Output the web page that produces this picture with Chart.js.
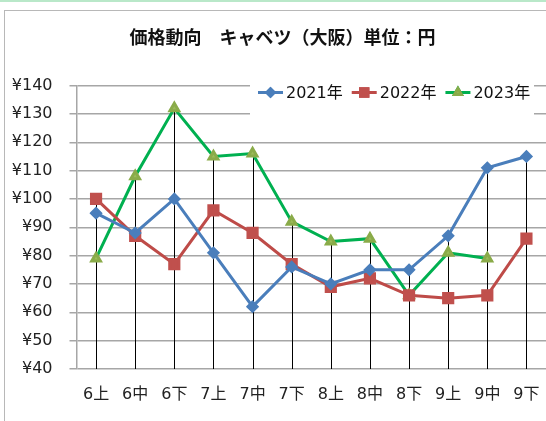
<!DOCTYPE html>
<html>
<head>
<meta charset="utf-8">
<script src="https://cdn.jsdelivr.net/npm/chart.js@4"></script>
<style>
    body { margin: 0; background: #fff; overflow: hidden; }
    #topline { position: absolute; left: 0; top: 0; width: 546px; height: 2px; background: #b9e8c9; }
    #frame { position: absolute; left: 4px; top: 10px; width: 700px; height: 600px; border: 1.5px solid #b8b8b8; }
    #wrap { position: absolute; left: 0; top: 0; width: 546px; height: 421px; }
</style>
</head>
<body>
<div id="topline"></div>
<div id="frame"></div>
<div id="wrap"><canvas id="priceChart" width="546" height="421"></canvas></div>
<script>
// periods (上=early, 中=mid, 下=late)
const periods = ['6上', '6中', '6下', '7上', '7中', '7下', '8上', '8中', '8下', '9上', '9中', '9下'];
const seriesNames = ['2021年', '2022年', '2023年'];
const prices2021 = [95, 88, 100, 81, 62, 76, 70, 75, 75, 87, 111, 115];
const prices2022 = [100, 87, 77, 96, 88, 77, 69, 72, 66, 65, 66, 86];
const prices2023 = [79, 108, 132, 115, 116, 92, 85, 86, 66, 81, 79, null];
const yTicks = [40, 50, 60, 70, 80, 90, 100, 110, 120, 130, 140];

const fontName = '"DejaVu Sans", "Noto Sans CJK JP", sans-serif';
const titleFont = '"Noto Sans CJK JP", sans-serif';

// excel style drop lines: from the highest point of each period down to the axis
const dropLines = {
    id: 'dropLines',
    afterLayout(chart) {
        // title is centred on the frame, not the canvas
        chart.titleBlock.left += 19;
    },
    beforeDatasetsDraw(chart) {
        const ctx = chart.ctx;
        const x = chart.scales.x, y = chart.scales.y;
        ctx.save();
        ctx.strokeStyle = '#000';
        ctx.lineWidth = 1;
        periods.forEach(function(p, i) {
            const vals = chart.data.datasets.map(d => d.data[i]).filter(v => v != null);
            const top = Math.max.apply(null, vals);
            const px = Math.round(x.getPixelForValue(i)) + 0.5;
            ctx.beginPath();
            ctx.moveTo(px, y.getPixelForValue(top));
            ctx.lineTo(px, chart.chartArea.bottom);
            ctx.stroke();
        });
        ctx.restore();
    }
};

// legend sits on top of the plot in a white box
const boxLegend = {
    id: 'boxLegend',
    afterDraw(chart) {
        const ctx = chart.ctx;
        ctx.save();
        ctx.fillStyle = '#fff';
        ctx.fillRect(250, 79, 284, 40);
        ctx.font = '16px ' + fontName;
        ctx.textBaseline = 'middle';
        let x = 258;
        const cy = 92.5;
        chart.data.datasets.forEach(function(ds) {
            ctx.strokeStyle = ds.borderColor;
            ctx.lineWidth = 3;
            ctx.beginPath();
            ctx.moveTo(x, cy);
            ctx.lineTo(x + 25, cy);
            ctx.stroke();
            Chart.helpers.drawPoint(ctx, {
                pointStyle: ds.pointStyle,
                radius: ds.pointRadius * 0.8,
                borderWidth: 1,
                rotation: 0
            }, x + 12.5, cy);
            ctx.fillStyle = ds.pointBackgroundColor;
            ctx.strokeStyle = ds.pointBorderColor;
            ctx.fill();
            ctx.stroke();
            ctx.fillStyle = '#111';
            ctx.fillText(ds.label, x + 28, cy + 1);
            x += 28 + ctx.measureText(ds.label).width + 9;
        });
        ctx.restore();
    }
};

const ctx = document.getElementById('priceChart').getContext('2d');
const priceChart = new Chart(ctx, {
    type: 'line',
    data: {
        labels: periods,
        datasets: [{
            label: seriesNames[0],
            data: prices2021,
            borderColor: '#4a7ebb',
            pointBackgroundColor: '#4a7ebb',
            pointBorderColor: '#4a7ebb',
            pointStyle: 'rectRot',
            pointRadius: 4.5,
            borderWidth: 3
        }, {
            label: seriesNames[1],
            data: prices2022,
            borderColor: '#be4b48',
            pointBackgroundColor: '#c0504d',
            pointBorderColor: '#c0504d',
            pointStyle: 'rect',
            pointRadius: 6.5,
            borderWidth: 3
        }, {
            label: seriesNames[2],
            data: prices2023,
            borderColor: '#00b050',
            pointBackgroundColor: '#9bbb59',
            pointBorderColor: '#8aab49',
            pointStyle: 'triangle',
            pointRadius: 5,
            borderWidth: 3
        }]
    },
    options: {
        responsive: false,
        animation: false,
        layout: { autoPadding: false, padding: 0 },
        elements: { line: { tension: 0 }, point: { borderWidth: 1 } },
        plugins: {
            legend: { display: false },
            tooltip: { enabled: false },
            title: {
                display: true,
                text: '価格動向　キャベツ（大阪）単位：円',
                color: '#111',
                font: { family: titleFont, size: 18, weight: 'bold' },
                padding: { top: 26, bottom: 38 }
            }
        },
        scales: {
            x: {
                offset: true,
                afterFit(scale) { scale.height = 52; },
                // hidden tick marks only push the labels down
                grid: { display: false, drawTicks: true, tickLength: 16 },
                border: { display: false },
                ticks: { color: '#222', padding: 0, font: { family: fontName, size: 16 } }
            },
            y: {
                min: 40,
                max: 140,
                afterFit(scale) { scale.width = 76.5; },
                afterBuildTicks(scale) { scale.ticks = yTicks.map(v => ({ value: v })); },
                grid: { color: '#a6a6a6', lineWidth: 1.5, tickLength: 7 },
                border: { color: '#a6a6a6', width: 1.5 },
                ticks: {
                    color: '#222',
                    padding: 17,
                    font: { family: fontName, size: 16 },
                    callback: function(v) { return '¥' + v; }
                }
            }
        }
    },
    plugins: [dropLines, boxLegend]
});
</script>
</body>
</html>
